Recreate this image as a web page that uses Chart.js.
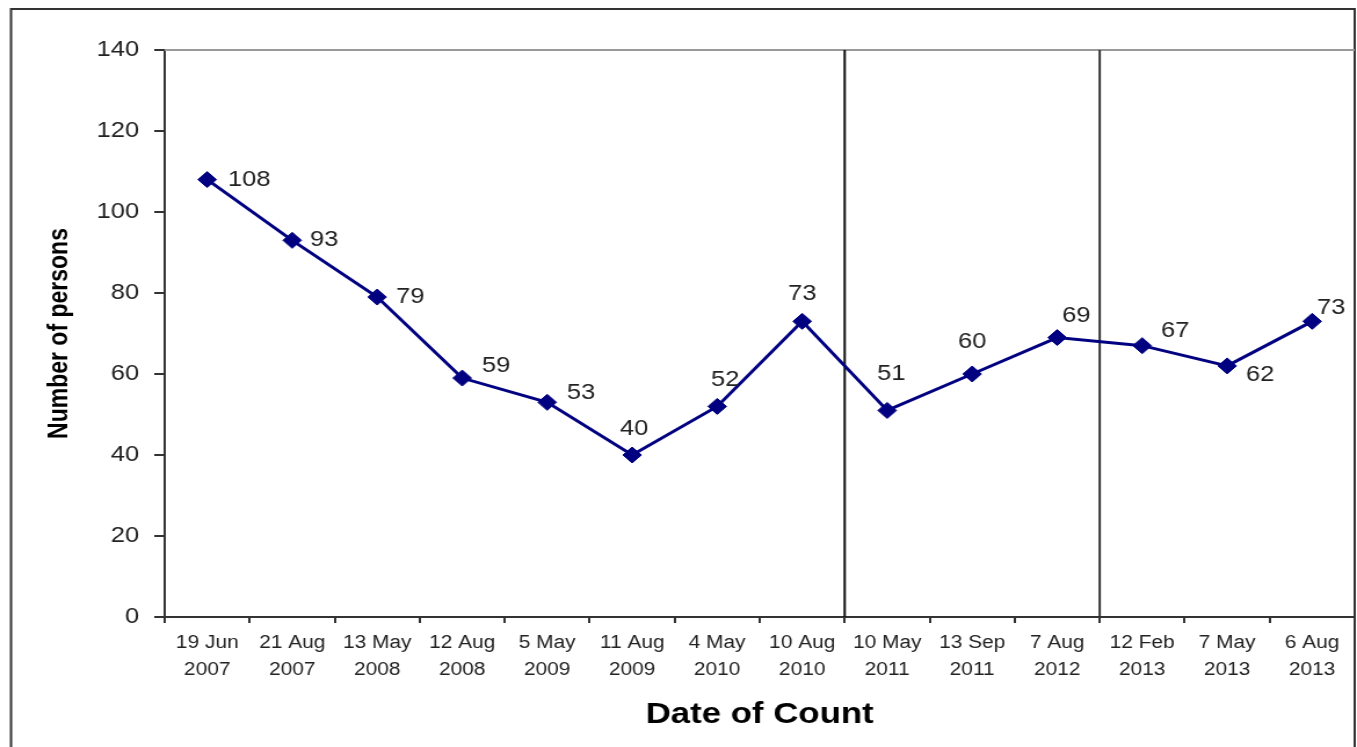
<!DOCTYPE html>
<html><head><meta charset="utf-8">
<script src="https://cdn.jsdelivr.net/npm/chart.js@4.4.1/dist/chart.umd.min.js"></script>
<style>
html,body{margin:0;padding:0;background:#fff;overflow:hidden;}
#wrap{position:absolute;left:0;top:0;width:1170px;height:747px;}
#c{transform:scaleX(1.159829);transform-origin:0 0;}
</style></head><body>
<div id="wrap"><canvas id="c"></canvas></div>
<script>
// ---- data ----
const categories = [
  ["19 Jun","2007"],["21 Aug","2007"],["13 May","2008"],["12 Aug","2008"],
  ["5 May","2009"],["11 Aug","2009"],["4 May","2010"],["10 Aug","2010"],
  ["10 May","2011"],["13 Sep","2011"],["7 Aug","2012"],["12 Feb","2013"],
  ["7 May","2013"],["6 Aug","2013"]
];
const persons = [108, 93, 79, 59, 53, 40, 52, 73, 51, 60, 69, 67, 62, 73];
const yMin = 0, yMax = 140, yStep = 20;
// vertical divider lines sit between category index i and i+1
const dividersAfter = [7, 10];
// label placement (style): offset of label centre from its point, in screen px
const labelOffsets = [[42,0],[32,0],[33,0],[34,-12],[34,-9],[2,-26],[8,-26],[0,-27],[4,-37],[0,-32],[19,-22],[33,-15],[33,9],[19,-13]];

const S = 1357/1170;
const FAM = '"Liberation Sans", Arial, sans-serif';

const framePlugin = {
  id: 'frame',
  beforeDatasetsDraw(chart) {
    const {ctx, chartArea: a, scales: {x}} = chart;
    ctx.save();
    // outer border
    ctx.strokeStyle = '#333'; ctx.lineWidth = 2;
    ctx.strokeRect(9.5, 9, a.right - 9.5, 800);
    // plot top line
    ctx.strokeStyle = '#9a9a9a'; ctx.lineWidth = 2;
    ctx.beginPath(); ctx.moveTo(a.left, a.top); ctx.lineTo(a.right, a.top); ctx.stroke();
    // dividers
    dividersAfter.forEach((i, k) => {
      const px = (x.getPixelForValue(i) + x.getPixelForValue(i + 1)) / 2;
      ctx.strokeStyle = k === 0 ? '#111' : '#333';
      ctx.lineWidth = 2;
      ctx.beginPath(); ctx.moveTo(px, a.top); ctx.lineTo(px, a.bottom); ctx.stroke();
    });
    ctx.restore();
  }
};

const labelPlugin = {
  id: 'vlabels',
  afterDatasetsDraw(chart) {
    const {ctx} = chart;
    const meta = chart.getDatasetMeta(0);
    ctx.save();
    ctx.font = '22px ' + FAM;
    ctx.fillStyle = '#222';
    ctx.textAlign = 'center';
    ctx.textBaseline = 'middle';
    meta.data.forEach((pt, i) => {
      const [dx, dy] = labelOffsets[i];
      ctx.fillText(String(persons[i]), pt.x + dx / S, pt.y + dy);
    });
    ctx.restore();
  }
};

new Chart(document.getElementById('c'), {
  type: 'line',
  data: {
    labels: categories,
    datasets: [{
      data: persons,
      borderColor: '#000080', backgroundColor: '#000080',
      borderWidth: 3, tension: 0,
      pointStyle: 'rectRot', pointRadius: 8, pointHoverRadius: 8,
      pointBorderWidth: 1
    }]
  },
  options: {
    responsive: true, maintainAspectRatio: false, animation: false, events: [],
    layout: {autoPadding: false, padding: {top: 50, right: 2, bottom: 0, left: 0}},
    plugins: {legend: {display: false}, tooltip: {enabled: false}},
    scales: {
      x: {
        type: 'category', offset: true,
        grid: {offset: true, drawOnChartArea: false, drawTicks: true, tickLength: 6, color: '#333', lineWidth: 2},
        border: {display: true, color: '#333', width: 2},
        ticks: {font: {family: FAM, size: 18, lineHeight: 1.5}, color: '#222', padding: 7, maxRotation: 0, autoSkip: false},
        title: {display: true, text: 'Date of Count', color: '#000',
                font: {family: FAM, size: 30, weight: 'bold'}, padding: {top: 0, bottom: 14}},
        afterFit(s) { s.height = 130; s.paddingLeft = 0; s.paddingRight = 0; }
      },
      y: {
        min: yMin, max: yMax,
        ticks: {stepSize: yStep, font: {family: FAM, size: 22}, color: '#222', padding: 13},
        grid: {drawOnChartArea: false, drawTicks: true, tickLength: 9, color: '#333', lineWidth: 2},
        border: {display: true, color: '#333', width: 2},
        title: {display: true, text: 'Number of persons', color: '#000',
                font: {family: FAM, size: 23, weight: 'bold'}, padding: {top: 38, bottom: 0}},
        afterFit(s) { s.width = 142; }
      }
    }
  },
  plugins: [framePlugin, labelPlugin]
});
</script>
</body></html>
